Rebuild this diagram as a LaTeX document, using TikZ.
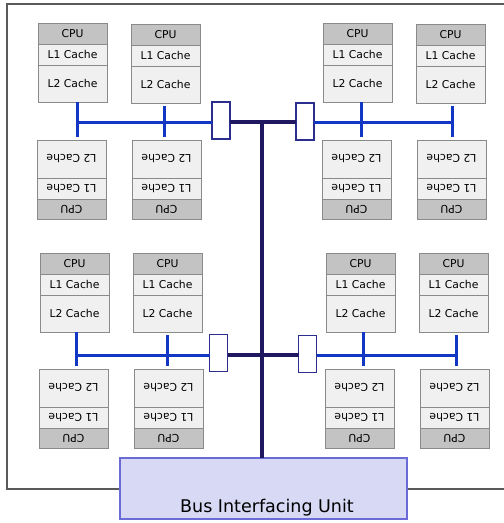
\documentclass[tikz,border=0pt]{standalone}
\usepackage{fontspec}
\setmainfont{DejaVu Sans}
\definecolor{hdrgray}{HTML}{C3C3C3}
\definecolor{bandgray}{HTML}{F0F0F0}
\definecolor{edgegray}{HTML}{8A8A8A}
\definecolor{busblue}{HTML}{1237C4}
\definecolor{busnavy}{HTML}{1F1860}
\definecolor{connedge}{HTML}{2B2E8E}
\definecolor{biufill}{HTML}{D8D9F5}
\definecolor{biuedge}{HTML}{6B6BD8}
\definecolor{framegray}{HTML}{5A5A5A}
\tikzset{
  cell/.style={draw=edgegray, line width=1pt, minimum width=69pt, inner sep=0pt, outer sep=0pt, anchor=north west, font=\fontsize{10.8}{12}\selectfont},
  hdrcell/.style={cell, fill=hdrgray},
  bandcell/.style={cell, fill=bandgray},
  conn/.style={draw=connedge, fill=white, line width=1.1pt, minimum width=18pt, minimum height=37pt, inner sep=0pt, outer sep=0pt},
  bluebus/.style={busblue, line width=3pt},
  navybus/.style={busnavy, line width=4pt},
  biu/.style={draw=biuedge, fill=biufill, line width=1.2pt, minimum width=287pt, minimum height=61pt, inner sep=0pt, outer sep=0pt}
}
\newcommand\upbox[3]{%
  \node[hdrcell, minimum height=21pt] (#1c) at (#2,#3) {CPU};
  \node[bandcell, minimum height=21pt] (#1a) at (#1c.south west) {L1 Cache};
  \node[bandcell, minimum height=37pt] (#1b) at (#1a.south west) {L2 Cache};
}
\newcommand\dnbox[3]{%
  \node[bandcell, minimum height=38pt] (#1b) at (#2,#3) {\rotatebox{180}{L2 Cache}};
  \node[bandcell, minimum height=21pt] (#1a) at (#1b.south west) {\rotatebox{180}{L1 Cache}};
  \node[hdrcell, minimum height=20pt] (#1c) at (#1a.south west) {\rotatebox{180}{CPU}};
}
\begin{document}
\begin{tikzpicture}[x=1pt, y=-1pt]
\useasboundingbox (0,0) rectangle (504,523);
% frame (open on the right)
\draw[framegray, line width=1.5pt] (510,4) -- (7,4) -- (7,489) -- (510,489);

% top half boxes
\upbox{ua}{38}{23}
\upbox{ub}{131}{24}
\upbox{uc}{323}{23}
\upbox{ud}{416}{24}
\dnbox{da}{37}{140}
\dnbox{db}{132}{140}
\dnbox{dc}{322}{140}
\dnbox{dd}{417}{140}
% bottom half boxes
\upbox{ue}{40}{253}
\upbox{uf}{133}{253}
\upbox{ug}{326}{253}
\upbox{uh}{419}{253}
\dnbox{de}{39}{369}
\dnbox{df}{134}{369}
\dnbox{dg}{325}{369}
\dnbox{dh}{420}{369}

% bus coordinates
\coordinate (s1) at (77,122);
\coordinate (s2) at (164,122);
\coordinate (s3) at (361,122);
\coordinate (s4) at (452,122);
\coordinate (s5) at (76,355);
\coordinate (s6) at (167,355);
\coordinate (s7) at (363,355);
\coordinate (s8) at (456,355);

% connector boxes
\node[conn] (k1) at (221,120.5) {};
\node[conn] (k2) at (305,121.5) {};
\node[conn] (k3) at (218.5,353) {};
\node[conn] (k4) at (307.5,354) {};

% bus interfacing unit
\node[biu] (biu) at (263.5,488.5) {};
\node[font=\fontsize{17.5}{19}\selectfont, anchor=base] (biut) at (267,512) {Bus Interfacing Unit};

\coordinate (j1) at (262,122);
\coordinate (j2) at (262,355);

% navy buses
\draw[navybus] (j1) -- (biu.north -| j1);
\draw[navybus] (k1.east |- j1) -- (k2.west |- j1);
\draw[navybus] (k3.east |- j2) -- (k4.west |- j2);

% blue buses
\draw[bluebus] (s1) -- (k1.west |- s1);
\draw[bluebus] (k2.east |- s3) -- (s4);
\draw[bluebus] (s5) -- (k3.west |- s5);
\draw[bluebus] (k4.east |- s7) -- (s8);
% stubs
\draw[bluebus] (uab.south -| s1) -- ([yshift=3pt]dab.north -| s1);
\draw[bluebus] ([yshift=-3pt]ubb.south -| s2) -- ([yshift=3pt]dbb.north -| s2);
\draw[bluebus] (ucb.south -| s3) -- ([yshift=3pt]dcb.north -| s3);
\draw[bluebus] ([yshift=-3pt]udb.south -| s4) -- ([yshift=3pt]ddb.north -| s4);
\draw[bluebus] (ueb.south -| s5) -- ([yshift=3pt]deb.north -| s5);
\draw[bluebus] ([yshift=-3pt]ufb.south -| s6) -- ([yshift=3pt]dfb.north -| s6);
\draw[bluebus] (ugb.south -| s7) -- ([yshift=3pt]dgb.north -| s7);
\draw[bluebus] ([yshift=-3pt]uhb.south -| s8) -- ([yshift=3pt]dhb.north -| s8);
\end{tikzpicture}
\end{document}
